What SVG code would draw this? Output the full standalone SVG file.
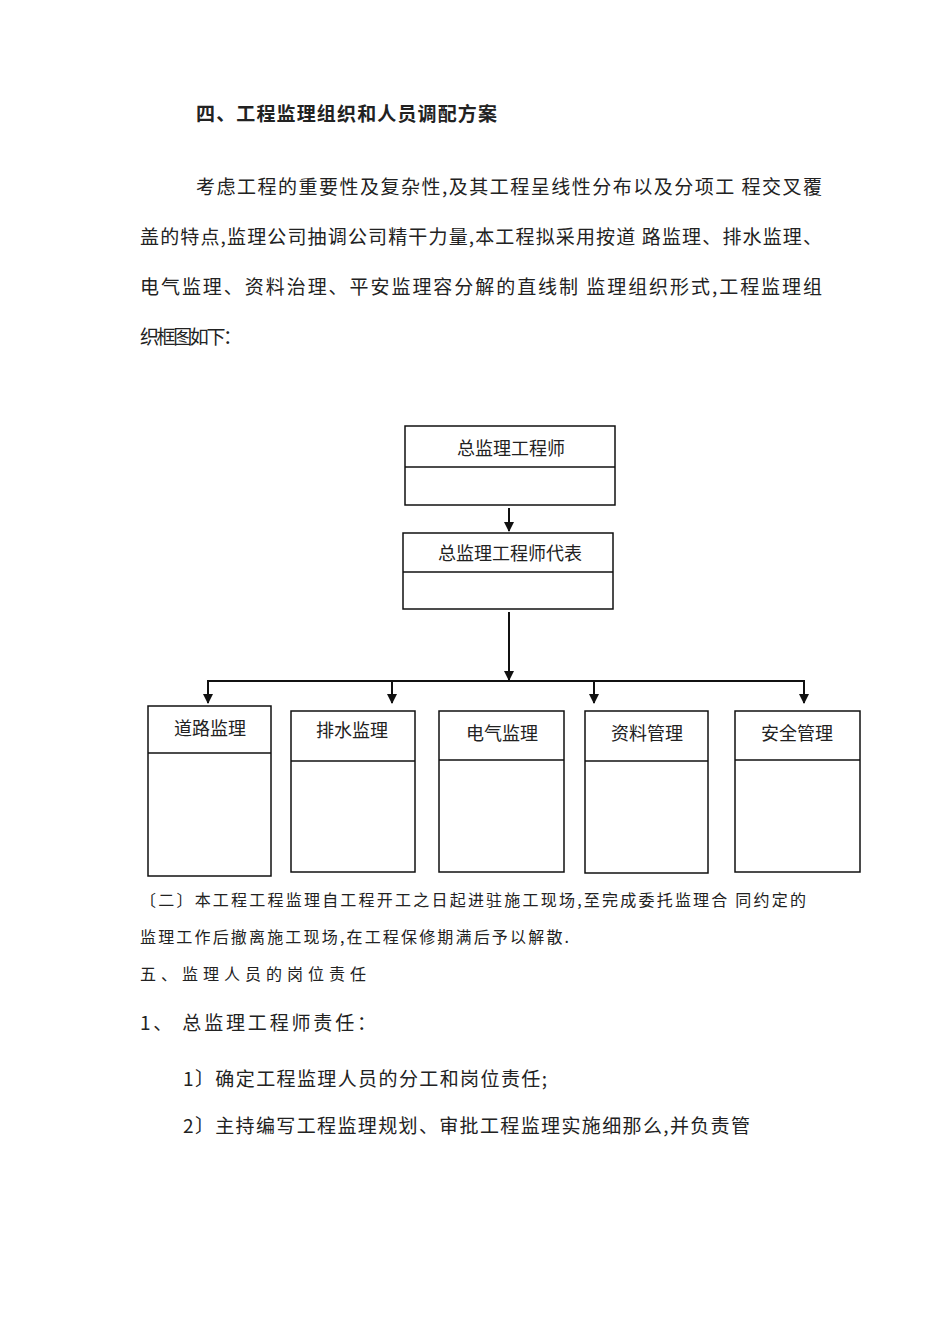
<svg xmlns="http://www.w3.org/2000/svg" width="950" height="1344" viewBox="0 0 950 1344">
<style>
text{font-family:"Noto Sans CJK SC","Liberation Serif",serif;fill:#222}
.p{font-size:19px}.s{font-size:16px}.n{font-size:18px}
.b{fill:#fff;stroke:#111;stroke-width:1.5}
.l{stroke:#111;stroke-width:1.5;fill:none}
.c{stroke:#111;stroke-width:2;fill:none}
</style>
<defs><marker id="a" markerWidth="10" markerHeight="10" refX="9" refY="5" orient="auto" markerUnits="userSpaceOnUse"><path d="M0,0 L10,5 L0,10 z" fill="#111"/></marker></defs>
<rect width="950" height="1344" fill="#fff"/>
<text x="196" y="121" class="p" font-weight="bold" textLength="301" lengthAdjust="spacing">四、工程监理组织和人员调配方案</text>
<text x="196" y="194" class="p" textLength="626" lengthAdjust="spacing">考虑工程的重要性及复杂性,及其工程呈线性分布以及分项工  程交叉覆</text>
<text x="140" y="244" class="p" textLength="682" lengthAdjust="spacing">盖的特点,监理公司抽调公司精干力量,本工程拟采用按道  路监理、排水监理、</text>
<text x="140" y="294" class="p" textLength="682" lengthAdjust="spacing">电气监理、资料治理、平安监理容分解的直线制  监理组织形式,工程监理组</text>
<text x="140" y="344" class="p" textLength="102" lengthAdjust="spacing">织框图如下：</text>
<g id="n1"><rect class="b" x="405" y="426" width="210" height="79"/><line class="l" x1="405" y1="467" x2="615" y2="467"/><text x="511" y="455" class="n" text-anchor="middle">总监理工程师</text></g>
<g id="n2"><rect class="b" x="403" y="533" width="210" height="76"/><line class="l" x1="403" y1="572" x2="613" y2="572"/><text x="510" y="560" class="n" text-anchor="middle">总监理工程师代表</text></g>
<g id="n3"><rect class="b" x="148" y="706" width="123" height="170"/><line class="l" x1="148" y1="753" x2="271" y2="753"/><text x="210" y="735" class="n" text-anchor="middle">道路监理</text></g>
<g id="n4"><rect class="b" x="291" y="711" width="124" height="161"/><line class="l" x1="291" y1="761" x2="415" y2="761"/><text x="352" y="737" class="n" text-anchor="middle">排水监理</text></g>
<g id="n5"><rect class="b" x="439" y="711" width="125" height="161"/><line class="l" x1="439" y1="760" x2="564" y2="760"/><text x="502" y="740" class="n" text-anchor="middle">电气监理</text></g>
<g id="n6"><rect class="b" x="585" y="711" width="123" height="162"/><line class="l" x1="585" y1="761" x2="708" y2="761"/><text x="647" y="740" class="n" text-anchor="middle">资料管理</text></g>
<g id="n7"><rect class="b" x="735" y="711" width="125" height="161"/><line class="l" x1="735" y1="760" x2="860" y2="760"/><text x="797" y="740" class="n" text-anchor="middle">安全管理</text></g>
<g id="connectors">
<line class="c" x1="509" y1="508" x2="509" y2="531" marker-end="url(#a)"/>
<line class="c" x1="509" y1="612" x2="509" y2="680" marker-end="url(#a)"/>
<line class="c" x1="207" y1="681" x2="805" y2="681"/>
<line class="c" x1="208" y1="681" x2="208" y2="703" marker-end="url(#a)"/>
<line class="c" x1="392" y1="681" x2="392" y2="703" marker-end="url(#a)"/>
<line class="c" x1="594" y1="681" x2="594" y2="703" marker-end="url(#a)"/>
<line class="c" x1="804" y1="681" x2="804" y2="703" marker-end="url(#a)"/>
</g>
<text x="140" y="906" class="s" textLength="666" lengthAdjust="spacing">〔二〕本工程工程监理自工程开工之日起进驻施工现场,至完成委托监理合  同约定的</text>
<text x="140" y="943" class="s" textLength="429" lengthAdjust="spacing">监理工作后撤离施工现场,在工程保修期满后予以解散.</text>
<text x="140" y="980" class="s" textLength="226" lengthAdjust="spacing">五、监理人员的岗位责任</text>
<text x="140" y="1030" class="p" textLength="236" lengthAdjust="spacing">1、   总监理工程师责任：</text>
<text x="183" y="1086" class="p" textLength="364" lengthAdjust="spacing">1〕确定工程监理人员的分工和岗位责任;</text>
<text x="183" y="1133" class="p" textLength="567" lengthAdjust="spacing">2〕主持编写工程监理规划、审批工程监理实施细那么,并负责管</text>
</svg>
